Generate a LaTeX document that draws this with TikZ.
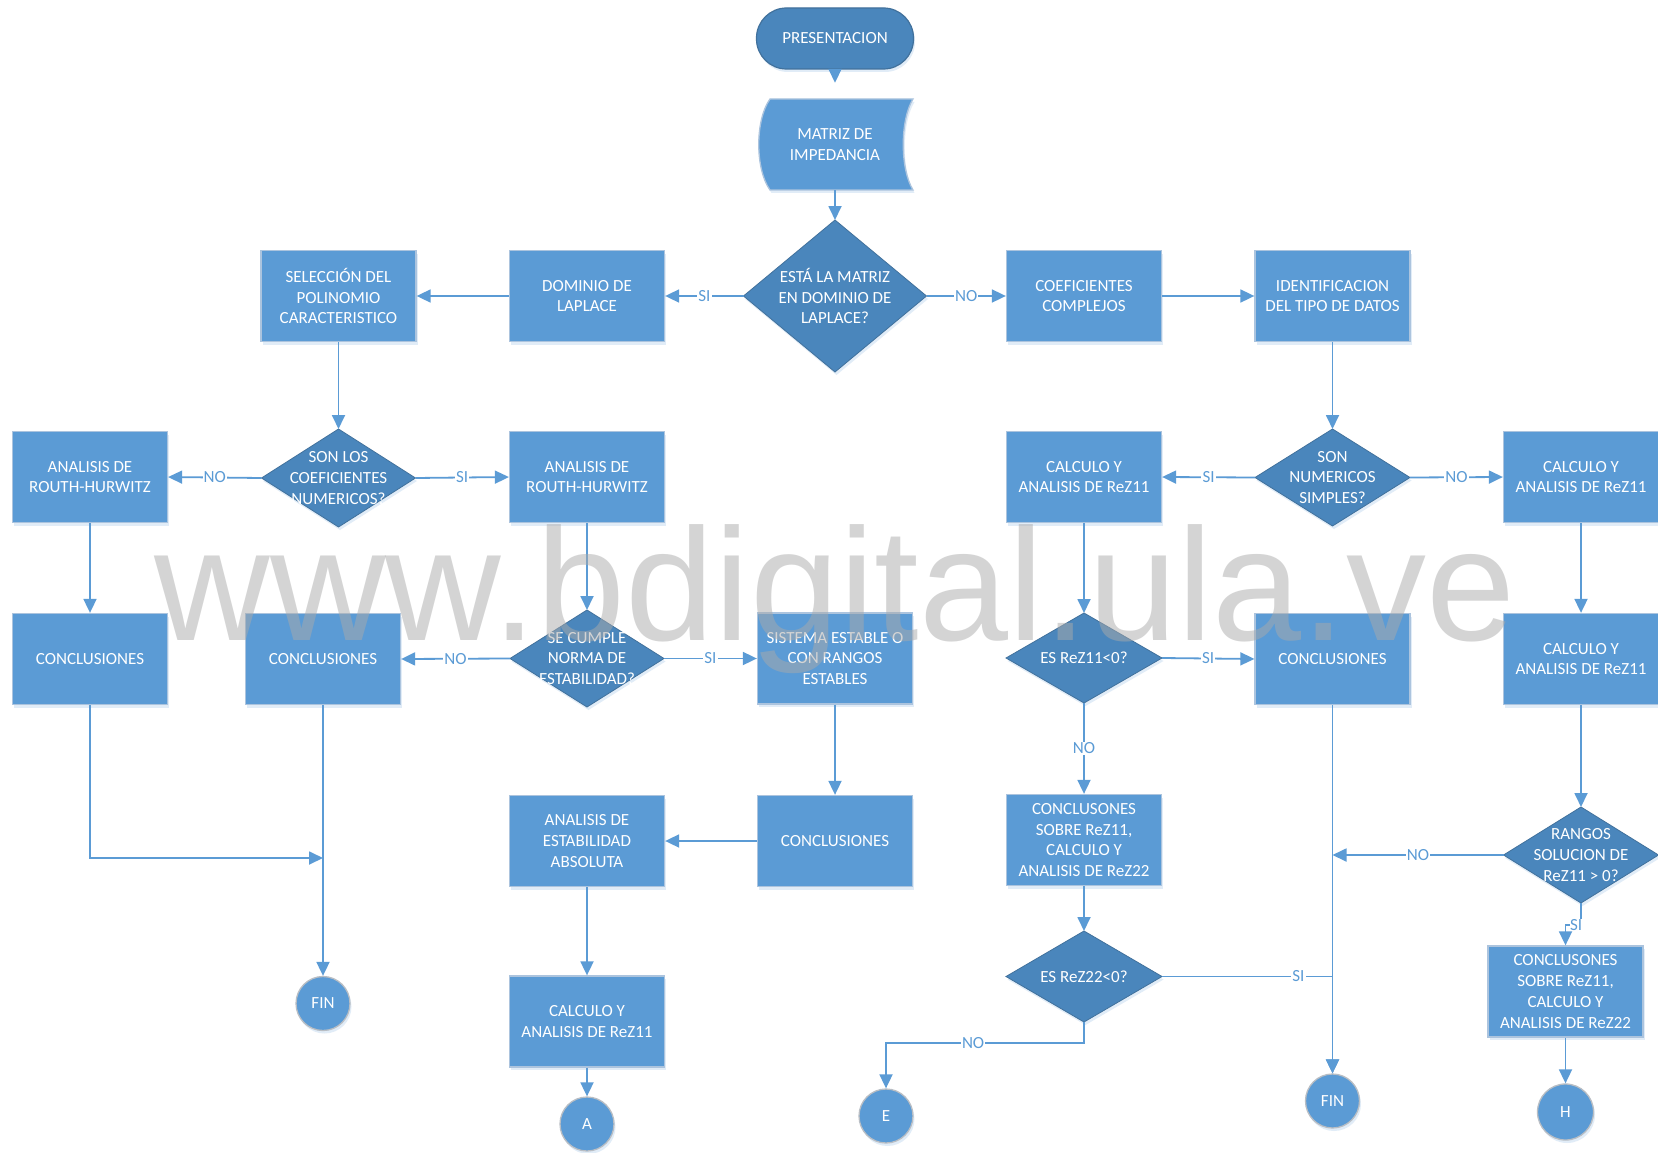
\documentclass[tikz,border=0pt]{standalone}
\usepackage{fontspec}
\setmainfont{Carlito}
\newfontfamily\wmfont{Liberation Sans}
\usetikzlibrary{shapes.geometric,arrows.meta,shadows}
\definecolor{boxblue}{RGB}{91,155,213}
\definecolor{boxborder}{RGB}{172,196,222}
\definecolor{diablue}{RGB}{74,134,188}
\definecolor{diaborder}{RGB}{65,113,156}
\definecolor{lineblue}{RGB}{91,155,213}
\definecolor{circborder}{RGB}{185,190,196}
\definecolor{wmgray}{RGB}{170,170,170}
\begin{document}
\begin{tikzpicture}[x=1pt,y=-1pt,
  txt/.style={text=white, font=\fontsize{17}{20.7}\selectfont, align=center},
  shad/.style={drop shadow={shadow xshift=1.5pt, shadow yshift=-3pt, opacity=0.18, fill=boxblue}},
  box/.style={rectangle, draw=boxborder, line width=1.3pt, fill=boxblue, minimum width=155pt, minimum height=91pt, inner sep=2pt, txt, shad},
  dia/.style={diamond, draw=diaborder, line width=0.8pt, fill=diablue, inner sep=0pt, outer sep=0pt, shad},
  circ/.style={circle, fill=boxblue, draw=circborder, line width=1.3pt, minimum size=54pt, inner sep=0pt, txt, shad},
  conn/.style={draw=lineblue, line width=1.8pt, -{Triangle[length=14pt,width=13pt]}},
  lbl/.style={fill=white, text=lineblue, inner sep=1.2pt, font=\fontsize{17}{20}\selectfont}]
\useasboundingbox (0,0) rectangle (1658,1153);
\fill[white] (0,0) rectangle (1658,1153);

% terminal and stored data
\node[rectangle, rounded corners=30pt, draw=diaborder, line width=1.2pt, fill=diablue, minimum width=157pt, minimum height=61pt, txt, shad] (pres) at (835,38.5) {PRESENTACION};
\fill[boxblue, shad] (770,99) -- (913,99) .. controls (900,120) and (900,169) .. (913,190) -- (770,190) .. controls (755,169) and (755,120) .. (770,99) -- cycle;
\draw[boxborder, line width=1.3pt] (770,99) -- (913,99) .. controls (900,120) and (900,169) .. (913,190) -- (770,190) .. controls (755,169) and (755,120) .. (770,99) -- cycle;
\node[minimum width=155pt, minimum height=91pt, inner sep=0pt, txt] (mat) at (835,144.5) {MATRIZ DE\\IMPEDANCIA};

% diamonds
\node[dia, minimum width=183pt, minimum height=152pt] (d1) at (835,296) {};
\node[txt] at (d1) {ESTÁ LA MATRIZ\\EN DOMINIO DE\\LAPLACE?};
\node[dia, minimum width=154pt, minimum height=98pt] (d2) at (338.5,478) {};
\node[txt] at (d2) {SON LOS\\COEFICIENTES\\NUMERICOS?};
\node[dia, minimum width=155pt, minimum height=97pt] (d3) at (1332.5,477.5) {};
\node[txt] at (d3) {SON\\NUMERICOS\\SIMPLES?};
\node[dia, minimum width=154pt, minimum height=97pt] (d4) at (587,658.5) {};
\node[txt] at (d4) {SE CUMPLE\\NORMA DE\\ESTABILIDAD?};
\node[dia, minimum width=156pt, minimum height=90pt] (d5) at (1084,658) {};
\node[txt] at (d5) {ES ReZ11<0?};
\node[dia, minimum width=156pt, minimum height=91pt] (d6) at (1084,976.5) {};
\node[txt] at (d6) {ES ReZ22<0?};
\node[dia, minimum width=155pt, minimum height=96pt] (d7) at (1581,855) {};
\node[txt] at (d7) {RANGOS\\SOLUCION DE\\ReZ11 > 0?};

% boxes
\node[box] (dom) at (587,296) {DOMINIO DE\\LAPLACE};
\node[box] (sel) at (338.5,296) {SELECCIÓN DEL\\POLINOMIO\\CARACTERISTICO};
\node[box] (coef) at (1084,296) {COEFICIENTES\\COMPLEJOS};
\node[box] (ident) at (1332.5,296) {IDENTIFICACION\\DEL TIPO DE DATOS};
\node[box] (ar1) at (90,477) {ANALISIS DE\\ROUTH-HURWITZ};
\node[box] (ar2) at (587,477) {ANALISIS DE\\ROUTH-HURWITZ};
\node[box] (calc1) at (1084,477) {CALCULO Y\\ANALISIS DE ReZ11};
\node[box] (calc2) at (1581,477) {CALCULO Y\\ANALISIS DE ReZ11};
\node[box] (conc1) at (90,659) {CONCLUSIONES};
\node[box] (conc2) at (323,659) {CONCLUSIONES};
\node[box] (sist) at (835,658.5) {SISTEMA ESTABLE O\\CON RANGOS\\ESTABLES};
\node[box] (conc3) at (1332.5,659) {CONCLUSIONES};
\node[box] (calc3) at (1581,659) {CALCULO Y\\ANALISIS DE ReZ11};
\node[box] (aest) at (587,841) {ANALISIS DE\\ESTABILIDAD\\ABSOLUTA};
\node[box] (conc4) at (835,841) {CONCLUSIONES};
\node[box] (csob1) at (1084,840) {CONCLUSONES\\SOBRE ReZ11,\\CALCULO Y\\ANALISIS DE ReZ22};
\node[box] (calc4) at (587,1021.5) {CALCULO Y\\ANALISIS DE ReZ11};
\node[box] (csob2) at (1565.5,991.5) {CONCLUSONES\\SOBRE ReZ11,\\CALCULO Y\\ANALISIS DE ReZ22};

% circles
\node[circ] (fin1) at (323,1003.5) {FIN};
\node[circ] (fin2) at (1332.5,1101) {FIN};
\node[circ] (A) at (587,1124) {A};
\node[circ] (E) at (886,1116) {E};
\node[circ, minimum size=56pt] (H) at (1565.5,1112) {H};

\coordinate (j1) at (323,858);
\coordinate (j2) at (1332.5,855);

% connectors
\draw[conn, shorten >=16pt] (pres.south) -- (mat.north);
\draw[conn] (mat.south) -- (d1.north);
\draw[conn] (d1.west) -- node[lbl]{SI} (dom.east);
\draw[conn] (d1.east) -- node[lbl]{NO} (coef.west);
\draw[conn] (dom.west) -- (sel.east);
\draw[conn] (coef.east) -- (ident.west);
\draw[conn] (sel.south) -- (d2.north);
\draw[conn] (d2.west) -- node[lbl]{NO} (ar1.east);
\draw[conn] (d2.east) -- node[lbl]{SI} (ar2.west);
\draw[conn] (ar1.south) -- (conc1.north);
\draw[conn] (ar2.south) -- (d4.north);
\draw[conn] (d4.west) -- node[lbl]{NO} (conc2.east);
\draw[conn] (d4.east) -- node[lbl]{SI} (sist.west);
\draw[conn] (sist.south) -- (conc4.north);
\draw[conn] (conc4.west) -- (aest.east);
\draw[conn] (aest.south) -- (calc4.north);
\draw[conn] (calc4.south) -- (A.north);
\draw[conn] (conc1.south) |- (j1);
\draw[conn] (conc2.south) -- (fin1.north);
\draw[conn] (ident.south) -- (d3.north);
\draw[conn] (d3.west) -- node[lbl]{SI} (calc1.east);
\draw[conn] (d3.east) -- node[lbl]{NO} (calc2.west);
\draw[conn] (calc1.south) -- (d5.north);
\draw[conn] (d5.east) -- node[lbl]{SI} (conc3.west);
\draw[conn] (d5.south) -- node[lbl]{NO} (csob1.north);
\draw[conn] (csob1.south) -- (d6.north);
\draw[conn] (conc3.south) -- (fin2.north);
\draw[conn] (d6.east) -| node[lbl, pos=0.4]{SI} (fin2.north);
\draw[conn] (d6.south) -- ++(0,21) -| node[lbl, pos=0.28]{NO} (E.north);
\draw[conn] (calc2.south) -- (calc3.north);
\draw[conn] (calc3.south) -- (d7.north);
\draw[conn] (d7.west) -- node[lbl]{NO} (j2);
\draw[conn] (d7.south) -- ++(0,22) -| node[lbl, pos=0.16, inner sep=0.5pt]{SI} (csob2.north);
\draw[conn] (csob2.south) -- (H.north);

% watermark
\node[anchor=base, text=wmgray, text opacity=0.5, font=\wmfont\fontsize{160}{160}\selectfont, inner sep=0pt] (wm) at (835,640) {www.bdigital.ula.ve};
\end{tikzpicture}
\end{document}
